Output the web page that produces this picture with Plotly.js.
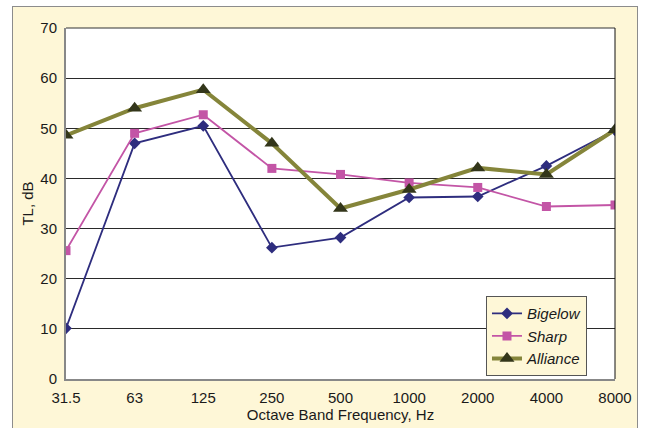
<!DOCTYPE html>
<html><head><meta charset="utf-8">
<script src="https://cdn.plot.ly/plotly-3.0.1.min.js"></script>
<style>
body{margin:0;background:#fff;}
#bg{position:absolute;left:12px;top:6px;width:624px;height:430px;background:#FEF7D7;border:1px solid #8c8c8c;}
#chart{position:absolute;left:0;top:0;width:647px;height:428px;}
</style></head><body>
<div id="bg"></div>
<div id="chart"></div>
<script>
const freqs = ['31.5','63','125','250','500','1000','2000','4000','8000'];
const bigelow = [10.1, 47.0, 50.5, 26.2, 28.2, 36.2, 36.4, 42.5, 49.6];
const sharp   = [25.6, 49.0, 52.7, 42.0, 40.8, 39.1, 38.2, 34.4, 34.7];
const alliance= [48.6, 54.0, 57.7, 47.0, 34.0, 37.8, 42.1, 40.8, 49.7];
const yTicks = [0,10,20,30,40,50,60,70];

const font = {family:'Liberation Sans, Arial, sans-serif', size:15, color:'#1a1a1a'};
const traces = [
  {x:freqs, y:bigelow, name:'Bigelow', mode:'lines+markers', type:'scatter',
   line:{color:'#2E2D7E', width:1.8}, marker:{symbol:'diamond', size:9, color:'#2E2D7E'}},
  {x:freqs, y:sharp, name:'Sharp', mode:'lines+markers', type:'scatter',
   line:{color:'#C355A6', width:1.8}, marker:{symbol:'square', size:9, color:'#C355A6'}},
  {x:freqs, y:alliance, name:'Alliance', mode:'lines+markers', type:'scatter',
   line:{color:'#85853A', width:4}, marker:{symbol:'triangle-up', size:13, color:'#33361A'}}
];
const layout = {
  width:647, height:428,
  margin:{l:66, r:32, t:28, b:49},
  paper_bgcolor:'rgba(0,0,0,0)', plot_bgcolor:'#ffffff',
  font: font,
  showlegend:true,
  legend:{x:0.765, y:0.236, xanchor:'left', yanchor:'top', bgcolor:'#FEF7D7',
    bordercolor:'#555', borderwidth:1, font:{family:'Liberation Sans, Arial, sans-serif', size:15, style:'italic', color:'#1a1a1a'},
    tracegroupgap:0, itemwidth:30},
  xaxis:{type:'category', range:[0,8], showgrid:false, zeroline:false,
    showline:true, linecolor:'#888', linewidth:2, mirror:false, ticks:'', ticklen:0,
    ticklabelstandoff:4,
    tickfont:{size:15}, title:{text:'Octave Band Frequency, Hz', font:{size:15}, standoff:2}},
  yaxis:{range:[0,70], tickvals:yTicks, showgrid:true, gridcolor:'#2a2a2a', gridwidth:1,
    zeroline:false, showline:true, linecolor:'#888', linewidth:2, ticks:'',
    ticklabelstandoff:4,
    tickfont:{size:15}, title:{text:'TL, dB', font:{size:15}, standoff:3}},
  shapes:[
    {type:'line', xref:'paper', yref:'paper', x0:0, x1:1, y0:1, y1:1, line:{color:'#333', width:1}},
    {type:'line', xref:'paper', yref:'paper', x0:1, x1:1, y0:0, y1:1, line:{color:'#111', width:1}}
  ]
};
Plotly.newPlot('chart', traces, layout, {displayModeBar:false, staticPlot:true});
</script></body></html>
